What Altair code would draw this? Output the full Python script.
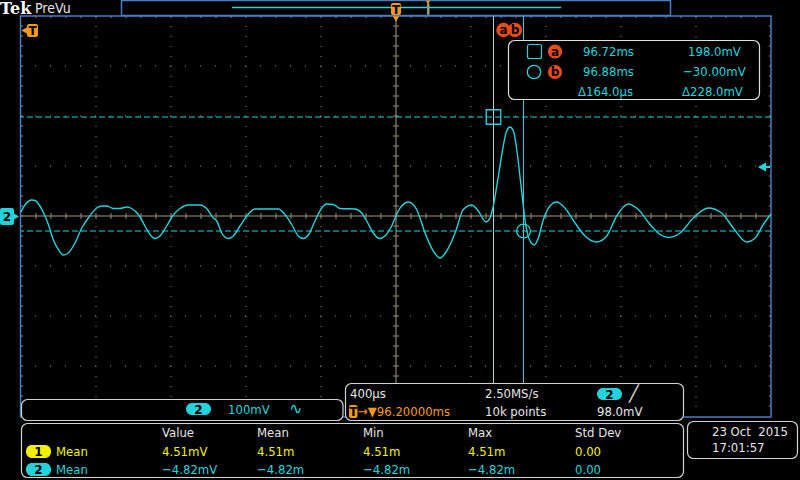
import altair as alt
import pandas as pd

# ---------------- data ----------------
t_ms = [94.200, 94.221, 94.257, 94.275, 94.301, 94.328, 94.346, 94.372, 94.399, 94.426,
        94.452, 94.488, 94.524, 94.559, 94.604, 94.630, 94.657, 94.692, 94.728, 94.764,
        94.790, 94.826, 94.861, 94.888, 94.915, 94.941, 94.977, 95.012, 95.048, 95.092,
        95.155, 95.190, 95.226, 95.244, 95.270, 95.306, 95.332, 95.368, 95.404, 95.448,
        95.510, 95.572, 95.608, 95.644, 95.679, 95.706, 95.732, 95.768, 95.804, 95.830,
        95.866, 95.901, 95.981, 96.017, 96.044, 96.079, 96.111, 96.141, 96.177, 96.212,
        96.266, 96.310, 96.355, 96.399, 96.435, 96.470, 96.515, 96.559, 96.604, 96.639,
        96.680, 96.701, 96.719, 96.746, 96.772, 96.790, 96.808, 96.826, 96.844, 96.861,
        96.879, 96.893, 96.915, 96.938, 96.959, 96.986, 97.021, 97.057, 97.101, 97.155,
        97.208, 97.270, 97.324, 97.377, 97.439, 97.492, 97.555, 97.608, 97.652, 97.715,
        97.786, 97.866, 97.937, 97.999, 98.070, 98.115, 98.159, 98.200]
v_mv = [8, 22, 32, 31, 20, 0, -17, -47, -67, -78,
        -74, -54, -24, -4, 16, 20, 20, 15, 15, 18,
        15, 3, -20, -37, -45, -40, -20, 2, 15, 22,
        22, 15, -4, -10, -34, -45, -40, -20, 0, 14,
        14, 14, 3, -17, -40, -45, -38, -10, 16, 24,
        23, 15, 14, 6, -10, -34, -45, -40, -20, 10,
        28, 13, -34, -70, -84, -70, -34, 13, 22, 10,
        -12, -4, 20, 80, 140, 170, 178, 170, 133, 80,
        20, -20, -50, -58, -44, -7, 20, 28, 16, -14,
        -40, -52, -40, 0, 24, 13, -17, -37, -43, -34,
        -4, 16, 6, -24, -52, -44, -17, 4]

cursor_t = [96.72, 96.88]
cursor_v = [198.0, -30.0]
trigger_t = 96.2
trigger_level_mv = 98.0

readout_time = ["96.72ms", "96.88ms", "Δ164.0µs"]
readout_volt = ["198.0mV", "−30.00mV", "Δ228.0mV"]
meas_headers = ["Value", "Mean", "Min", "Max", "Std Dev"]
meas_ch1 = ["4.51mV", "4.51m", "4.51m", "4.51m", "0.00"]
meas_ch2 = ["−4.82mV", "−4.82m", "−4.82m", "−4.82m", "0.00"]
meas_name = "Mean"
horiz_top = ["400µs", "2.50MS/s", "╱"]
horiz_bottom = ["10k points", "98.0mV"]
trigger_pos = "→▼96.20000ms"
ch2_scale = ["100mV", "∿"]
date_lines = ["23 Oct\u00a0 2015", "17:01:57"]

# ---------------- layout / style ----------------
X0, Y0, W, H = 21, 16, 750, 400
T_MIN, T_MAX = 94.2, 98.2
V_MIN, V_MAX = -400.0, 400.0
T_DIV, V_DIV = 0.4, 100.0

CYAN = "#22d3dc"
CUR_A = "#a9cfd3"
YELLOW = "#f2f200"
ORANGE = "#f39a1e"
RED = "#ec4a1c"
BLUE = "#4a7cc0"
GRID = "#9a8a70"
CENTER = "#a89c84"
WHITE = "#e6e6e6"
PANEL = "#d2d2d2"
FONT = "DejaVu Sans Condensed, DejaVu Sans"

xs = alt.Scale(domain=[T_MIN, T_MAX], nice=False, zero=False)
ys = alt.Scale(domain=[V_MIN, V_MAX], nice=False, zero=False)


def XQ(f):
    return alt.X(f, type="quantitative", scale=xs, axis=None)


def YQ(f):
    return alt.Y(f, type="quantitative", scale=ys, axis=None)


def one():
    return pd.DataFrame({"k": [0]})


layers = []

# graticule
grid_t = [T_MIN + k * T_DIV for k in range(1, 10) if k != 5]
grid_v = [V_MIN + k * V_DIV for k in range(1, 8) if k != 4]
layers.append(alt.Chart(pd.DataFrame({"t": grid_t})).mark_rule(
    color=GRID, strokeDash=[1, 9], strokeWidth=1).encode(x=XQ("t")))
layers.append(alt.Chart(pd.DataFrame({"v": grid_v})).mark_rule(
    color=GRID, strokeDash=[1, 14], strokeWidth=1).encode(y=YQ("v")))
layers.append(alt.Chart(pd.DataFrame({"t": [trigger_t]})).mark_rule(
    color=CENTER, strokeWidth=1).encode(x=XQ("t")))
layers.append(alt.Chart(pd.DataFrame({"v": [0.0]})).mark_rule(
    color=CENTER, strokeWidth=1).encode(y=YQ("v")))

minor_t = [T_MIN + k * T_DIV / 5 for k in range(1, 50)]
minor_v = [V_MIN + k * V_DIV / 5 for k in range(1, 40)]
ticks = []
for t in minor_t:
    ticks.append((t, t, -6.0, 6.0))
    ticks.append((t, t, V_MAX, V_MAX - 4))
for v in minor_v:
    ticks.append((trigger_t - 0.016, trigger_t + 0.016, v, v))
    ticks.append((T_MIN, T_MIN + 0.011, v, v))
    ticks.append((T_MAX - 0.011, T_MAX, v, v))
tdf = pd.DataFrame(ticks, columns=["t", "t2", "v", "v2"])
layers.append(alt.Chart(tdf).mark_rule(color=GRID, strokeWidth=1).encode(
    x=XQ("t"), x2="t2", y=YQ("v"), y2="v2"))

layers.append(alt.Chart(one()).mark_rect(fillOpacity=0, stroke=BLUE, strokeWidth=1.5).encode(
    x=alt.value(-0.5), x2=alt.value(W), y=alt.value(0), y2=alt.value(H + 1)))

# cursors
layers.append(alt.Chart(pd.DataFrame({"v": cursor_v})).mark_rule(
    color=CYAN, strokeDash=[6, 3], strokeWidth=1).encode(y=YQ("v")))
layers.append(alt.Chart(pd.DataFrame({"t": cursor_t, "c": [CUR_A, CYAN]})).mark_rule(
    strokeWidth=1).encode(x=XQ("t"), color=alt.Color("c:N", scale=None, legend=None)))

# trace
layers.append(alt.Chart(pd.DataFrame({"t": t_ms, "v": v_mv})).mark_line(
    color=CYAN, strokeWidth=1.4, interpolate="monotone").encode(x=XQ("t"), y=YQ("v")))

# cursor markers
layers.append(alt.Chart(pd.DataFrame({"t": [cursor_t[0]], "v": [cursor_v[0]]})).mark_point(
    shape="square", size=210, filled=False, color=CYAN, strokeWidth=1.3, opacity=1).encode(
    x=XQ("t"), y=YQ("v")))
layers.append(alt.Chart(pd.DataFrame({"t": [cursor_t[1]], "v": [cursor_v[1]]})).mark_point(
    shape="circle", size=190, filled=False, color=CYAN, strokeWidth=1.3, opacity=1).encode(
    x=XQ("t"), y=YQ("v")))

# trigger level arrow (right edge)
layers.append(alt.Chart(pd.DataFrame({"v": [trigger_level_mv]})).mark_rule(
    color=CYAN, strokeWidth=2).encode(x=alt.value(W - 8), x2=alt.value(W - 1), y=YQ("v")))
layers.append(alt.Chart(pd.DataFrame({"v": [trigger_level_mv]})).mark_point(
    shape="triangle-left", size=90, filled=True, color=CYAN, opacity=1).encode(
    x=alt.value(W - 9), y=YQ("v")))


# ---------------- overlays in screen pixels ----------------
def rects(rows, radius=0, sw=1.2):
    df = pd.DataFrame(rows, columns=["x1", "x2", "y1", "y2", "fill", "stroke"])
    df[["x1", "x2"]] -= X0
    df[["y1", "y2"]] -= Y0
    return alt.Chart(df).mark_rect(cornerRadius=radius, strokeWidth=sw).encode(
        x=alt.X("x1:Q", scale=None, axis=None), x2="x2:Q",
        y=alt.Y("y1:Q", scale=None, axis=None), y2="y2:Q",
        fill=alt.Fill("fill:N", scale=None, legend=None),
        stroke=alt.Stroke("stroke:N", scale=None, legend=None))


def points(rows):
    df = pd.DataFrame(rows, columns=["px", "py", "shape", "size", "fill", "stroke"])
    df["px"] -= X0
    df["py"] -= Y0
    return alt.Chart(df).mark_point(filled=True, opacity=1, strokeWidth=1.3).encode(
        x=alt.X("px:Q", scale=None, axis=None), y=alt.Y("py:Q", scale=None, axis=None),
        shape=alt.Shape("shape:N", scale=None, legend=None),
        size=alt.Size("size:Q", scale=None, legend=None),
        fill=alt.Fill("fill:N", scale=None, legend=None),
        stroke=alt.Stroke("stroke:N", scale=None, legend=None))


def texts(rows, size=13, weight="normal", align="left", font=FONT):
    df = pd.DataFrame(rows, columns=["text", "px", "py", "color"])
    df["px"] -= X0
    df["py"] -= Y0
    return alt.Chart(df).mark_text(align=align, baseline="middle", font=font,
                                   fontSize=size, fontWeight=weight).encode(
        x=alt.X("px:Q", scale=None, axis=None), y=alt.Y("py:Q", scale=None, axis=None),
        text="text:N", color=alt.Color("color:N", scale=None, legend=None))


T = "transparent"
# top bar
layers.append(rects([(121.5, 670.5, 0.5, 15.5, "black", BLUE)], 0, 1.5))
layers.append(alt.Chart(one()).mark_rule(color=CYAN, strokeWidth=1.5).encode(
    x=alt.value(232 - X0), x2=alt.value(561 - X0), y=alt.value(7.5 - Y0)))

# panels
layers.append(rects([
    (508.5, 759.5, 40.5, 99.5, "black", "#e0e0e0"),
    (21.5, 343.0, 399.5, 420.5, "black", PANEL),
    (345.5, 683.5, 383.5, 420.5, "black", PANEL),
    (21.5, 683.5, 423.5, 477.5, "black", PANEL),
    (687.5, 797.5, 421.5, 458.5, "black", PANEL),
], 6, 1.2))
# pills
layers.append(rects([
    (186, 211, 403, 415, CYAN, T),
    (597, 622, 388, 400, CYAN, T),
    (26, 51, 445, 458, YELLOW, T),
    (26, 51, 463, 476, CYAN, T),
], 6, 1))
# small markers
layers.append(rects([
    (427, 429.5, 3, 15, "#9a9a8a", T),
    (391, 401, 3, 15, ORANGE, T),
    (27, 38, 24, 37, ORANGE, T),
    (0, 14, 208, 225, CYAN, T),
    (349, 357.5, 405, 418, ORANGE, T),
    (527.5, 541.5, 44.5, 58.5, T, CYAN),
], 2, 1.2))
layers.append(points([
    (24.5, 30.5, "triangle-left", 50, ORANGE, T),
    (396, 19, "triangle-down", 40, ORANGE, T),
    (428, 2.5, "triangle-down", 18, ORANGE, T),
    (15.5, 216.5, "triangle-right", 70, CYAN, T),
    (503.5, 30, "circle", 210, RED, T),
    (515, 30, "circle", 210, RED, T),
    (555, 51.5, "circle", 200, RED, T),
    (555, 72, "circle", 200, RED, T),
    (534, 72, "circle", 180, T, CYAN),
]))

# text
layers.append(texts([("Tek", 0, 8.5, "white")], size=16, weight="bold", font="DejaVu Serif"))
layers.append(texts([("PreVu", 35, 8.5, WHITE)], size=14))

rows = []
for i, s in enumerate(readout_time):
    rows.append((s, [583, 583, 578][i], [52, 72, 92][i], CYAN))
for i, s in enumerate(readout_volt):
    rows.append((s, [688, 683, 682][i], [52, 72, 92][i], CYAN))
rows.append((ch2_scale[0], 228, 409.5, CYAN))
for s, x in zip(horiz_top[:2], [350, 485]):
    rows.append((s, x, 394, WHITE))
for s, x in zip(horiz_bottom, [485, 597]):
    rows.append((s, x, 411.5, WHITE))
rows.append((trigger_pos, 358, 411.5, ORANGE))
col_x = [162, 257, 363, 468, 575]
for s, x in zip(meas_headers, col_x):
    rows.append((s, x, 433, WHITE))
rows.append((meas_name, 56, 451.5, YELLOW))
rows.append((meas_name, 56, 469.5, CYAN))
for s, x in zip(meas_ch1, col_x):
    rows.append((s, x, 451.5, YELLOW))
for s, x in zip(meas_ch2, col_x):
    rows.append((s, x, 469.5, CYAN))
rows.append((date_lines[0], 712, 432, WHITE))
rows.append((date_lines[1], 712, 448, WHITE))
layers.append(texts(rows, size=13))
layers.append(texts([(ch2_scale[1], 289, 409, CYAN), (horiz_top[2], 629, 393.5, WHITE)],
                    size=16, font="DejaVu Sans"))

layers.append(texts([
    ("T", 32.5, 31, "black"), ("T", 396, 9.5, "black"), ("T", 353.3, 412, "black"),
    ("2", 7, 216.5, "black"), ("2", 198.5, 409.5, "black"), ("2", 609.5, 394.5, "black"),
    ("1", 38.5, 452, "black"), ("2", 38.5, 470, "black"),
    ("a", 503.5, 30, "black"), ("b", 515, 30, "black"),
    ("a", 555, 51.5, "black"), ("b", 555, 72, "black"),
], size=12, weight="bold", align="center", font="DejaVu Sans"))

chart = alt.layer(*layers).properties(
    width=W, height=H, background="black",
    padding={"left": X0, "top": Y0, "right": 800 - X0 - W, "bottom": 480 - Y0 - H},
    autosize=alt.AutoSizeParams(type="none"),
).configure_view(stroke=None)

chart.save("out.html", embed_options={"renderer": "svg", "actions": False})
